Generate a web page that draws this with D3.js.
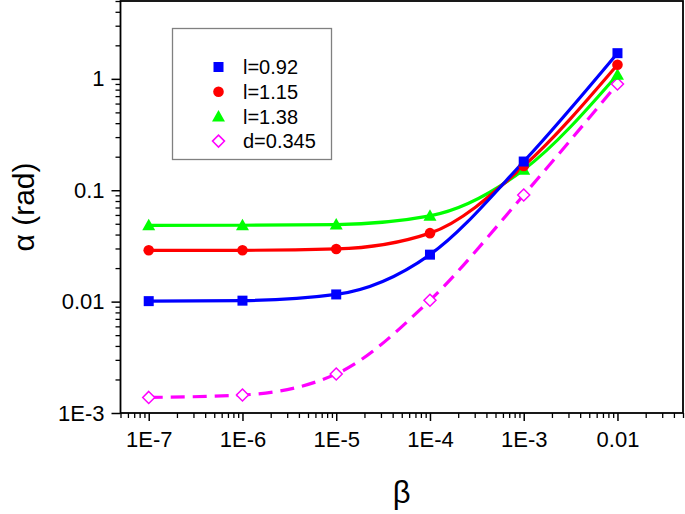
<!DOCTYPE html>
<html>
<head>
<meta charset="utf-8">
<script src="https://cdn.jsdelivr.net/npm/d3@7"></script>
<style>
  html, body { margin: 0; padding: 0; background: #fff; }
  svg { display: block; }
  text { font-family: "Liberation Sans", Arial, sans-serif; }
</style>
</head>
<body>
<svg id="chart" width="685" height="514"></svg>
<script>
// ---- data ----
const betaValues = [1e-7, 1e-6, 1e-5, 1e-4, 1e-3, 1e-2];
const seriesNames = ["l=0.92", "l=1.15", "l=1.38", "d=0.345"];
const alphaL092 = [0.0101, 0.0102, 0.0116, 0.0264, 0.181, 1.70];
const alphaL115 = [0.0289, 0.0289, 0.0297, 0.0412, 0.165, 1.34];
const alphaL138 = [0.0484, 0.0485, 0.0492, 0.0589, 0.153, 1.09];
const alphaD0345 = [0.00138, 0.00145, 0.00224, 0.0103, 0.0907, 0.90];
const seriesColors = ["#0000ff", "#ff0000", "#00ff00", "#ff00ff"];
const seriesMarkers = ["square", "circle", "triangle", "diamond"];
const xTickValues = [1e-7, 1e-6, 1e-5, 1e-4, 1e-3, 1e-2];
const xTickLabels = ["1E-7", "1E-6", "1E-5", "1E-4", "1E-3", "0.01"];
const yTickValues = [1e-3, 1e-2, 1e-1, 1];
const yTickLabels = ["1E-3", "0.01", "0.1", "1"];

const series = [alphaL092, alphaL115, alphaL138, alphaD0345].map((vals, i) => ({
  name: seriesNames[i], color: seriesColors[i], marker: seriesMarkers[i],
  dashed: i === 3,
  points: vals.map((a, j) => ({ b: betaValues[j], a: a }))
}));

// ---- layout ----
const svg = d3.select("#chart");
const L = 120.5, R = 683, T = 1, B = 413;
const x = d3.scaleLog().domain([5e-8, 5e-2]).range([L, R]);
const y = d3.scaleLog().domain([1e-3, 5]).range([B, T]);

function minors(lo, hi) {
  const out = [];
  for (let e = Math.floor(Math.log10(lo)); e <= Math.ceil(Math.log10(hi)); e++) {
    for (let m = 2; m <= 9; m++) {
      const v = m * Math.pow(10, e);
      if (v >= lo * 0.9999 && v <= hi * 1.0001) out.push(v);
    }
  }
  return out;
}

// minor ticks
svg.append("g").attr("transform", `translate(0,${B})`)
  .call(d3.axisBottom(x).tickValues(minors(5e-8, 5e-2)).tickSize(5).tickFormat(""))
  .call(g => g.select(".domain").remove())
  .call(g => g.selectAll("line").attr("stroke", "#000").attr("stroke-width", 1.3));
svg.append("g").attr("transform", `translate(${L},0)`)
  .call(d3.axisLeft(y).tickValues(minors(1e-3, 5)).tickSize(5).tickFormat(""))
  .call(g => g.select(".domain").remove())
  .call(g => g.selectAll("line").attr("stroke", "#000").attr("stroke-width", 1.3));

// major ticks
svg.append("g").attr("transform", `translate(0,${B})`)
  .call(d3.axisBottom(x).tickValues(xTickValues).tickSize(8).tickPadding(10)
        .tickFormat((d, i) => xTickLabels[i]))
  .call(g => g.select(".domain").remove())
  .call(g => g.selectAll("line").attr("stroke", "#000").attr("stroke-width", 1.5))
  .call(g => g.selectAll("text").attr("font-size", 22).attr("fill", "#000")
        .attr("font-family", "Liberation Sans, Arial, sans-serif"));
svg.append("g").attr("transform", `translate(${L},0)`)
  .call(d3.axisLeft(y).tickValues(yTickValues).tickSize(9).tickPadding(7)
        .tickFormat((d, i) => yTickLabels[i]))
  .call(g => g.select(".domain").remove())
  .call(g => g.selectAll("line").attr("stroke", "#000").attr("stroke-width", 1.5))
  .call(g => g.selectAll("text").attr("font-size", 22).attr("fill", "#000")
        .attr("font-family", "Liberation Sans, Arial, sans-serif"));

// frame
svg.append("rect").attr("x", L).attr("y", T).attr("width", R - L).attr("height", B - T)
  .attr("fill", "none").attr("stroke", "#000").attr("stroke-width", 1.8);

// curves
const line = d3.line().x(d => x(d.b)).y(d => y(d.a)).curve(d3.curveMonotoneX);
const drawOrder = [3, 2, 1, 0];
drawOrder.forEach(i => {
  const s = series[i];
  svg.append("path").datum(s.points).attr("d", line)
    .attr("fill", "none").attr("stroke", s.color).attr("stroke-width", 3.2)
    .attr("stroke-dasharray", s.dashed ? "14,8" : null);
});

function drawMarker(g, type, cx, cy, color) {
  if (type === "square") {
    g.append("rect").attr("x", cx - 5).attr("y", cy - 5).attr("width", 10).attr("height", 10).attr("fill", color);
  } else if (type === "circle") {
    g.append("circle").attr("cx", cx).attr("cy", cy).attr("r", 5.3).attr("fill", color);
  } else if (type === "triangle") {
    g.append("path").attr("d", `M${cx},${cy - 6.5}L${cx + 6.5},${cy + 5}L${cx - 6.5},${cy + 5}Z`).attr("fill", color);
  } else if (type === "diamond") {
    g.append("path").attr("d", `M${cx},${cy - 6}L${cx + 6},${cy}L${cx},${cy + 6}L${cx - 6},${cy}Z`)
      .attr("fill", "#fff").attr("stroke", color).attr("stroke-width", 1.5);
  }
}

drawOrder.forEach(i => {
  const s = series[i];
  const g = svg.append("g");
  s.points.forEach(p => drawMarker(g, s.marker, x(p.b), y(p.a), s.color));
});

// legend
const lg = svg.append("g");
lg.append("rect").attr("x", 172.5).attr("y", 28.5).attr("width", 159).attr("height", 131)
  .attr("fill", "#fff").attr("stroke", "#808080").attr("stroke-width", 1.3);
series.forEach((s, i) => {
  const cy = 67 + i * 24.7;
  drawMarker(lg, s.marker, 218.5, cy, s.color);
  lg.append("text").attr("x", 243).attr("y", cy).attr("dy", "0.36em")
    .attr("font-size", 20).attr("fill", "#000").text(s.name);
});

// axis titles
svg.append("text").attr("transform", `translate(34,${(T + B) / 2}) rotate(-90)`)
  .attr("text-anchor", "middle").attr("font-size", 30).attr("fill", "#000").text("α (rad)");
svg.append("text").attr("x", (L + R) / 2).attr("y", 503)
  .attr("text-anchor", "middle").attr("font-size", 31).attr("fill", "#000").text("β");
</script>
</body>
</html>
